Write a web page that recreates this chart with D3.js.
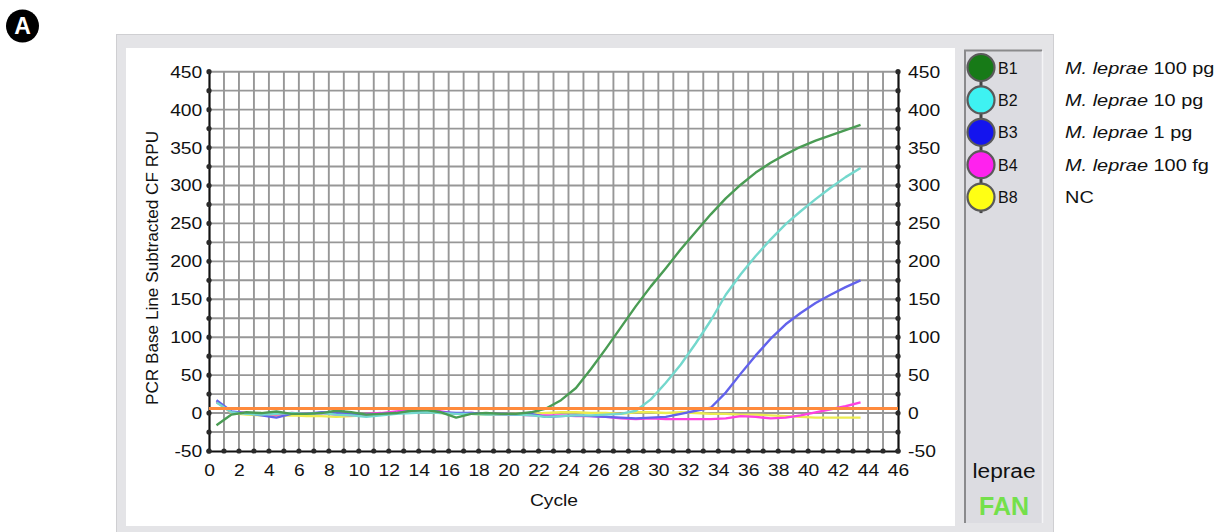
<!DOCTYPE html>
<html>
<head>
<meta charset="utf-8">
<script src="https://cdn.jsdelivr.net/npm/d3@7"></script>
<style>
  html, body { margin: 0; padding: 0; background: #fff; }
  svg { display: block; font-family: "Liberation Sans", Arial, sans-serif; }
</style>
</head>
<body>
<svg id="chart" width="1223" height="532"></svg>
<script>
// ---- data -------------------------------------------------------------
const cycles = d3.range(1, 45);            // cycles 1..44
const xTicks = d3.range(0, 47, 2);
const yTicks = d3.range(-50, 451, 50);
const yMinorTicks = d3.range(-50, 451, 25);
const threshold = 6;

const wells = ["B1", "B2", "B3", "B4", "B8"];
const sampleNames = ["100 pg", "10 pg", "1 pg", "100 fg", "NC"];
const wellFill = ["#177a17", "#3ef2f2", "#1414ee", "#ff22ee", "#ffff14"];
const traceColor = ["#4a9c54", "#74d8cd", "#6262ec", "#ff40e0", "#ecec50"];

const b1 = [-16, -2, 1, 0, 2, -1, -1, 0, 3, 1, -2, -1, 0, 3, 4, 1, -6, -1, 0, -1, -1, 1,
  6, 17, 33, 58, 85, 113, 141, 167, 191, 216, 239, 262, 283, 301, 317, 330, 341, 351, 359, 366, 373, 380];
const b2 = [14, 1, -1, -2, -1, 0, -1, 0, -2, -3, -5, -3, -1, 0, 1, 0, -1, -1, -2, -2, -2, -3,
  -5, -4, -3, -3, -2, -1, 3, 18, 40, 64, 92, 122, 156, 183, 207, 229, 249, 266, 282, 297, 311, 323];
const b3 = [17, 2, 0, -3, -6, -1, -1, 1, 0, -1, -2, -1, 0, 2, 3, 1, 0, 0, -1, -1, -2, -1,
  -5, -4, -3, -4, -5, -6, -7, -6, -5, -1, 3, 7, 27, 52, 76, 98, 117, 132, 145, 156, 166, 175];
const b4 = [15, 1, 0, -1, -2, 0, -1, 0, -2, -3, -1, 0, 2, 4, 5, 2, -1, 0, -1, -2, -2, -3,
  -3, -3, -4, -4, -5, -7, -8, -7, -8, -8, -8, -8, -7, -4, -5, -7, -6, -3, 1, 5, 9, 14];
const b8 = [16, 0, -2, -3, -4, -3, -4, -4, -5, -4, -3, -2, 0, 1, 2, 0, -1, -1, -2, -2, -1, -1,
  0, 1, 1, 0, 0, -1, 1, 1, 0, 1, 0, -1, -1, -2, -2, -3, -4, -5, -6, -6, -6, -6];
const seriesValues = [b1, b2, b3, b4, b8];

// ---- layout -------------------------------------------------------------
const svg = d3.select("#chart");
const font = "'Liberation Sans', Arial, sans-serif";
const stretch = "scale(1.12,1)";

const x = d3.scaleLinear().domain([0, 46]).range([209, 898]);
const y = d3.scaleLinear().domain([-50, 450]).range([451, 71.7]);
const plotX = c => x(c - 0.5);   // each cycle is drawn half a step left of its number

// "A" badge
svg.append("circle").attr("cx", 22.5).attr("cy", 26).attr("r", 16.5).attr("fill", "#000");
svg.append("text").attr("x", 22.5).attr("y", 34).attr("text-anchor", "middle")
  .attr("fill", "#fff").attr("font-weight", "bold").attr("font-size", 23).text("A");

// window frame
svg.append("rect").attr("x", 116.5).attr("y", 34.5).attr("width", 937).attr("height", 510)
  .attr("fill", "#e4e4e7").attr("stroke", "#cfcfd2");
svg.append("rect").attr("x", 126).attr("y", 48).attr("width", 829).attr("height", 478)
  .attr("fill", "#fff");

// legend panel
svg.append("rect").attr("x", 964).attr("y", 50).attr("width", 78).attr("height", 473)
  .attr("fill", "#dcdce1");
svg.append("path").attr("d", "M965,523V50.5H1042").attr("fill", "none")
  .attr("stroke", "#8a8a8c").attr("stroke-width", 2);
svg.append("path").attr("d", "M1042.5,51V523").attr("fill", "none")
  .attr("stroke", "#f4f4f6").attr("stroke-width", 1.5);

// grid
const grid = svg.append("g").attr("stroke", "#979797").attr("stroke-width", 1.9);
grid.selectAll("line.v").data(d3.range(1, 46)).join("line")
  .attr("x1", d => x(d)).attr("x2", d => x(d)).attr("y1", y(450)).attr("y2", y(-50));
grid.selectAll("line.h").data(yMinorTicks.filter(d => d > -50)).join("line")
  .attr("x1", x(0)).attr("x2", x(46)).attr("y1", d => y(d)).attr("y2", d => y(d));

// axes
const fmt = d => String(d);
const axisLeft = d3.axisLeft(y).tickValues(yTicks).tickFormat(fmt).tickSize(0).tickPadding(6);
const axisRight = d3.axisRight(y).tickValues(yTicks).tickFormat(fmt).tickSize(0).tickPadding(9);
const axisBottom = d3.axisBottom(x).tickValues(xTicks).tickFormat(fmt).tickSize(0).tickPadding(13);

function styleAxis(g) {
  g.select(".domain").attr("stroke", "#111").attr("stroke-width", 2.2);
  g.selectAll("text").attr("font-family", font).attr("font-size", 17.2)
    .attr("fill", "#111").attr("transform", stretch);
}
svg.append("g").attr("transform", `translate(${x(0)},0)`).call(axisLeft).call(styleAxis);
svg.append("g").attr("transform", `translate(${x(46)},0)`).call(axisRight).call(styleAxis);
svg.append("g").attr("transform", `translate(0,${y(-50)})`).call(axisBottom).call(styleAxis);

// tick dots on the axes
const dots = svg.append("g").attr("fill", "#2a2a2a");
[x(0), x(46)].forEach(px => {
  dots.selectAll(null).data(yMinorTicks).join("circle")
    .attr("cx", px).attr("cy", d => y(d)).attr("r", 2.6);
});
dots.selectAll(null).data(d3.range(0, 47)).join("circle")
  .attr("cx", d => x(d)).attr("cy", y(-50)).attr("r", 2.6);

// axis titles
svg.append("text").attr("transform", `translate(158,268) rotate(-90)`)
  .attr("text-anchor", "middle").attr("font-size", 17.2).attr("fill", "#111")
  .text("PCR Base Line Subtracted CF RPU");
svg.append("text").attr("transform", `translate(554,506) ${stretch}`)
  .attr("text-anchor", "middle").attr("font-size", 17.2).attr("fill", "#111").text("Cycle");

// amplification traces
const line = d3.line().x(d => plotX(d.c)).y(d => y(d.v));
const order = [4, 3, 2, 1, 0];
svg.append("g").selectAll("path").data(order).join("path")
  .attr("d", i => line(cycles.map((c, k) => ({ c, v: seriesValues[i][k] }))))
  .attr("fill", "none").attr("stroke", i => traceColor[i])
  .attr("stroke-width", 2.4).attr("stroke-linejoin", "round");

// threshold line
svg.append("line").attr("x1", x(0)).attr("x2", x(46))
  .attr("y1", y(threshold)).attr("y2", y(threshold))
  .attr("stroke", "#ff8a3c").attr("stroke-width", 3);

// well legend (beads)
const rowY = i => 67.5 + i * 32.4;
const beads = svg.append("g");
beads.append("line").attr("x1", 981).attr("x2", 981).attr("y1", rowY(0)).attr("y2", rowY(4) + 16)
  .attr("stroke", "#444").attr("stroke-width", 3);
beads.selectAll("circle").data(wells).join("circle")
  .attr("cx", 981).attr("cy", (d, i) => rowY(i)).attr("r", 13.5)
  .attr("fill", (d, i) => wellFill[i]).attr("stroke", "#5a5a5a").attr("stroke-width", 2.2);
beads.selectAll("text").data(wells).join("text")
  .attr("x", 998).attr("y", (d, i) => rowY(i) + 6)
  .attr("font-size", 16).attr("fill", "#111").text(d => d);

// sample names
const names = svg.append("g");
sampleNames.forEach((s, i) => {
  const t = names.append("text")
    .attr("transform", `translate(1065,${rowY(i) + 6}) scale(1.2,1)`)
    .attr("font-size", 16.6).attr("fill", "#111");
  if (s === "NC") { t.text(s); return; }
  t.append("tspan").attr("font-style", "italic").text("M. leprae");
  t.append("tspan").text(" " + s);
});

// target / fluorophore labels
svg.append("text").attr("transform", `translate(1004,478) scale(1.08,1)`)
  .attr("text-anchor", "middle").attr("font-size", 21).attr("fill", "#111").text("leprae");
svg.append("text").attr("transform", `translate(1004,515)`)
  .attr("text-anchor", "middle").attr("font-size", 25).attr("font-weight", "bold")
  .attr("fill", "#74e04b").text("FAN");
</script>
</body>
</html>
